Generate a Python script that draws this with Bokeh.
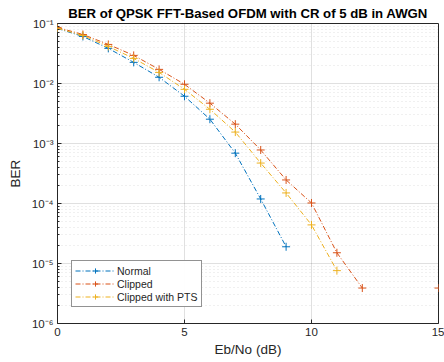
from bokeh.plotting import figure
from bokeh.embed import file_html
from bokeh.resources import INLINE
from bokeh.models import (CustomJSTickFormatter, FixedTicker, Legend, LegendItem,
                          ColumnDataSource, Range1d)

ebno = list(range(0, 16))
nan = float("nan")
ber_normal = [0.0826, 0.0608, 0.0385, 0.0225, 0.0127, 0.00613, 0.00254, 6.9e-4,
              1.19e-4, 1.9e-5, nan, nan, nan, nan, nan, nan]
ber_clipped = [0.0859, 0.0656, 0.0448, 0.0294, 0.0172, 0.0097, 0.0047, 0.0021,
               7.8e-4, 2.47e-4, 1.02e-4, 1.51e-5, 3.9e-6, nan, nan, 3.9e-6]
ber_pts = [0.083, 0.0633, 0.0415, 0.0262, 0.0153, 0.0080, 0.00372, 0.00155,
           4.72e-4, 1.5e-4, 4.4e-5, 7.6e-6, nan, nan, nan, nan]
labels = ["Normal", "Clipped", "Clipped with PTS"]
colors = ["#0072BD", "#D95319", "#EDB120"]
title = "BER of QPSK FFT-Based OFDM with CR of 5 dB in AWGN"
font = "Liberation Sans"
ink = "#262626"

p = figure(width=444, height=362, y_axis_type="log", output_backend="svg",
           toolbar_location=None, x_range=Range1d(0, 15), y_range=Range1d(1e-6, 1e-1),
           min_border_left=57, min_border_right=6, min_border_top=22, min_border_bottom=39)
p.title.text = title
p.title.align = "center"
p.title.text_font = font
p.title.text_font_size = "13.2px"
p.title.text_font_style = "bold"
p.title.text_color = "#000000"
p.title.offset = 0
p.title.standoff = 6

p.outline_line_color = ink
p.outline_line_width = 1
p.background_fill_color = "white"

supfmt = CustomJSTickFormatter(code="""
const e = Math.round(Math.log10(tick));
const sup = {'-':'\u207b','0':'\u2070','1':'\u00b9','2':'\u00b2','3':'\u00b3','4':'\u2074','5':'\u2075','6':'\u2076','7':'\u2077','8':'\u2078','9':'\u2079'};
return '10' + String(e).split('').map(c => sup[c]).join('');
""")

yticks = [1e-6, 1e-5, 1e-4, 1e-3, 1e-2, 1e-1]
p.yaxis.ticker = FixedTicker(ticks=yticks, minor_ticks=[m * 10.0**k for k in range(-6, -1) for m in range(2, 10)])
p.yaxis.formatter = supfmt
p.xaxis.ticker = FixedTicker(ticks=[0, 5, 10, 15])

for ax in [p.xaxis[0], p.yaxis[0]]:
    ax.axis_line_color = None
    ax.major_tick_in = 4
    ax.major_tick_out = 0
    ax.minor_tick_in = 2
    ax.minor_tick_out = 0
    ax.major_tick_line_color = ink
    ax.minor_tick_line_color = ink
    ax.major_label_text_font = font
    ax.major_label_text_font_size = "11.5px"
    ax.major_label_text_color = ink
    ax.axis_label_text_font = font
    ax.axis_label_text_font_size = "13.5px"
    ax.axis_label_text_font_style = "normal"
    ax.axis_label_text_color = ink
p.xaxis.minor_tick_line_color = None
p.xaxis.axis_label = "Eb/No (dB)"
p.yaxis.axis_label = "BER"
p.xaxis.major_label_standoff = 4
p.yaxis.major_label_standoff = 4
p.xaxis.axis_label_standoff = 3
p.yaxis.axis_label_standoff = 6

p.xgrid.grid_line_color = "#000000"
p.xgrid.grid_line_alpha = 0.12
p.ygrid.grid_line_color = "#000000"
p.ygrid.grid_line_alpha = 0.12
p.ygrid.minor_grid_line_color = "#000000"
p.ygrid.minor_grid_line_alpha = 0.12
p.ygrid.minor_grid_line_dash = "1 3"

items = []
for lab, col, ys in zip(labels, colors, [ber_normal, ber_clipped, ber_pts]):
    src = ColumnDataSource(dict(x=ebno, y=ys))
    r1 = p.line("x", "y", source=src, line_color=col, line_width=1, line_dash="5 2 1 2")
    r2 = p.scatter("x", "y", source=src, marker="cross", size=8, line_color=col, line_width=1)
    items.append(LegendItem(label=lab, renderers=[r1, r2]))

leg = Legend(items=items, location=(14, 16))
leg.label_text_font = font
leg.label_text_font_size = "10.5px"
leg.label_text_color = ink
leg.border_line_color = ink
leg.border_line_width = 1
leg.padding = 3
leg.spacing = 0
leg.glyph_height = 13
leg.glyph_width = 40
leg.label_height = 13
leg.label_standoff = 2
leg.margin = 0
p.add_layout(leg, "center")

open("out.html", "w").write(file_html(p, INLINE))
